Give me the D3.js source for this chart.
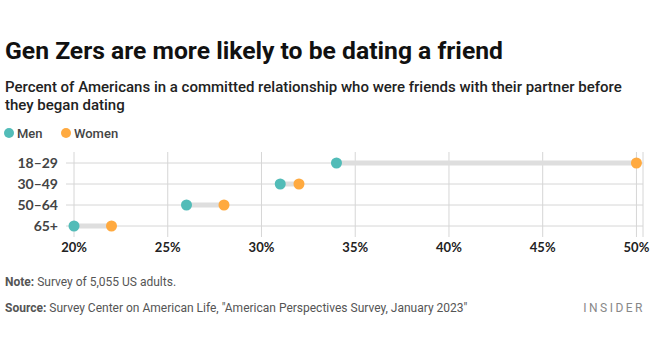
<!DOCTYPE html>
<html>
<head>
<meta charset="utf-8">
<script src="https://cdn.jsdelivr.net/npm/d3@7"></script>
<style>
  body { margin: 0; background: #fff; }
  svg text { font-family: Roboto, "Noto Sans", sans-serif; }
</style>
</head>
<body>
<div id="chart"></div>
<script>
const ages = ["18\u201329", "30\u201349", "50\u201364", "65+"];
const men = [34, 31, 26, 20];
const women = [50, 32, 28, 22];
const xTicks = [20, 25, 30, 35, 40, 45, 50];

const W = 652, H = 364;
const margin = {top: 152, left: 74, right: 9, bottom: 128};
const plotW = W - margin.left - margin.right;

const svg = d3.select("#chart").append("svg")
    .attr("width", W)
    .attr("height", H);

// titles
svg.append("text")
    .attr("x", 5).attr("y", 59)
    .attr("font-size", 24.7).attr("font-weight", 700)
    .attr("fill", "#111")
    .text("Gen Zers are more likely to be dating a friend");

const sub = svg.append("text")
    .attr("font-size", 15).attr("font-weight", 500)
    .attr("fill", "#222");
sub.append("tspan").attr("x", 5).attr("y", 92)
    .text("Percent of Americans in a committed relationship who were friends with their partner before");
sub.append("tspan").attr("x", 5).attr("y", 110)
    .text("they began dating");

// legend
const color = {Men: "#52bcb8", Women: "#ffaa40"};
const legend = svg.append("g").attr("transform", "translate(9,133)");
[["Men", 0], ["Women", 57]].forEach(([k, dx]) => {
    legend.append("circle").attr("cx", dx).attr("cy", 0).attr("r", 5).attr("fill", color[k]);
    legend.append("text").attr("x", dx + 8).attr("y", 5)
        .attr("font-size", 13).attr("font-weight", 500).attr("fill", "#444")
        .text(k);
});

const x = d3.scaleLinear().domain([20, 50.35]).range([0, plotW]);
const y = d3.scalePoint().domain(ages).range([11, 74]);

const g = svg.append("g")
    .attr("transform", "translate(" + margin.left + "," + margin.top + ")");

// vertical grid
g.selectAll(".vgrid")
    .data(xTicks)
    .enter().append("line")
    .attr("x1", d => x(d)).attr("x2", d => x(d))
    .attr("y1", 0).attr("y2", 85)
    .attr("stroke", "#d6d6d6");
g.append("line")
    .attr("x1", plotW).attr("x2", plotW)
    .attr("y1", 0).attr("y2", 85)
    .attr("stroke", "#d6d6d6");

// horizontal grid
g.selectAll(".hgrid")
    .data(ages)
    .enter().append("line")
    .attr("x1", -8).attr("x2", plotW)
    .attr("y1", d => y(d)).attr("y2", d => y(d))
    .attr("stroke", "#d6d6d6");

// y labels
g.selectAll(".ylab")
    .data(ages)
    .enter().append("text")
    .attr("x", -16).attr("y", d => y(d) + 5)
    .attr("text-anchor", "end")
    .attr("font-size", 14).attr("font-weight", 700)
    .attr("fill", "#444")
    .style("font-family", "Lato, sans-serif")
    .text(d => d);

// x axis labels
g.selectAll(".xlab")
    .data(xTicks)
    .enter().append("text")
    .attr("x", d => x(d)).attr("y", 100)
    .attr("text-anchor", "middle")
    .attr("font-size", 13).attr("font-weight", 700)
    .attr("fill", "#222")
    .style("font-family", "Lato, sans-serif")
    .text(d => d + "%");

// connectors
g.selectAll(".conn")
    .data(ages)
    .enter().append("line")
    .attr("x1", (d, i) => x(men[i])).attr("x2", (d, i) => x(women[i]))
    .attr("y1", d => y(d)).attr("y2", d => y(d))
    .attr("stroke", "#dedede").attr("stroke-width", 5);

g.selectAll(".men")
    .data(ages)
    .enter().append("circle")
    .attr("cx", (d, i) => x(men[i])).attr("cy", d => y(d))
    .attr("r", 5.5).attr("fill", color.Men);

g.selectAll(".women")
    .data(ages)
    .enter().append("circle")
    .attr("cx", (d, i) => x(women[i])).attr("cy", d => y(d))
    .attr("r", 5.5).attr("fill", color.Women);

// footer
const note = svg.append("text").attr("x", 5).attr("y", 286)
    .attr("font-size", 12).attr("fill", "#555");
note.append("tspan").attr("font-weight", 700).text("Note:");
note.append("tspan").text(" Survey of 5,055 US adults.");

const src = svg.append("text").attr("x", 5).attr("y", 312)
    .attr("font-size", 12).attr("fill", "#555");
src.append("tspan").attr("font-weight", 700).text("Source:");
src.append("tspan").text(" Survey Center on American Life, \"American Perspectives Survey, January 2023\"");

svg.append("text")
    .attr("x", 645).attr("y", 312)
    .attr("text-anchor", "end")
    .attr("font-size", 12).attr("fill", "#888")
    .attr("letter-spacing", 2.5)
    .text("INSIDER");
</script>
</body>
</html>
